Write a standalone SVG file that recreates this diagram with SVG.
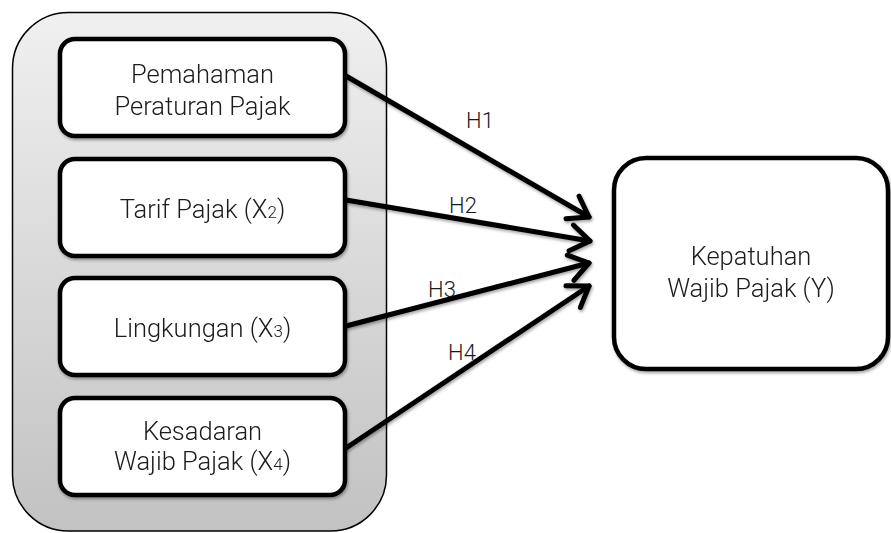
<svg xmlns="http://www.w3.org/2000/svg" width="891" height="533" viewBox="0 0 891 533">
<defs>
<linearGradient id="g" x1="0" y1="0" x2="0" y2="1">
<stop offset="0" stop-color="#f0f0f0"/>
<stop offset="1" stop-color="#c2c2c2"/>
</linearGradient>
<filter id="sh" x="-10%" y="-10%" width="120%" height="130%">
<feDropShadow dx="1" dy="2" stdDeviation="1.5" flood-color="#000" flood-opacity="0.35"/>
</filter>
<marker id="ah" markerUnits="userSpaceOnUse" markerWidth="40" markerHeight="40" viewBox="-30 -20 40 40" refX="0" refY="0" orient="auto">
<path d="M-19,-13 L0,0 L-19,13" fill="none" stroke="#000" stroke-width="5" stroke-linecap="round" stroke-linejoin="round"/>
</marker>
</defs>
<style>
.box{fill:#fff;stroke:#000;stroke-width:4.5;}
.t{font-family:Roboto,"Liberation Sans",Arial,sans-serif;font-weight:300;font-size:25.5px;fill:#1a1a1a;text-anchor:middle;}
.lbl{font-family:Roboto,"Liberation Sans",Arial,sans-serif;font-weight:300;font-size:22px;fill:#1a1a1a;text-anchor:middle;}
.sub{font-size:17px;}
.ln{stroke:#000;stroke-width:5;fill:none;stroke-linecap:round;marker-end:url(#ah);}
</style>
<rect width="891" height="533" fill="#fff"/>
<g id="container">
<rect x="12.5" y="12.5" width="374" height="518.5" rx="56" fill="url(#g)" stroke="#000" stroke-width="1.5"/>
</g>
<g id="x1" filter="url(#sh)">
<rect class="box" x="60" y="39" width="285" height="97" rx="15"/>
<text class="t" x="202.5" y="83">Pemahaman</text>
<text class="t" x="202.5" y="115">Peraturan Pajak</text>
</g>
<g id="x2" filter="url(#sh)">
<rect class="box" x="60" y="159" width="285" height="97" rx="15"/>
<text class="t" x="202.5" y="218">Tarif Pajak (X<tspan class="sub">2</tspan>)</text>
</g>
<g id="x3" filter="url(#sh)">
<rect class="box" x="60" y="278" width="285" height="97" rx="15"/>
<text class="t" x="202.5" y="337">Lingkungan (X<tspan class="sub">3</tspan>)</text>
</g>
<g id="x4" filter="url(#sh)">
<rect class="box" x="60" y="398" width="285" height="97" rx="15"/>
<text class="t" x="202.5" y="440">Kesadaran</text>
<text class="t" x="202.5" y="470">Wajib Pajak (X<tspan class="sub">4</tspan>)</text>
</g>
<g id="y" filter="url(#sh)">
<rect class="box" x="614" y="158" width="274" height="211" rx="32"/>
<text class="t" x="751" y="265">Kepatuhan</text>
<text class="t" x="751" y="297">Wajib Pajak (Y)</text>
</g>
<g id="connectors" filter="url(#sh)">
<line class="ln" x1="346" y1="76" x2="589" y2="217"/>
<line class="ln" x1="346" y1="200" x2="590" y2="241"/>
<line class="ln" x1="346" y1="326" x2="589" y2="263"/>
<line class="ln" x1="346" y1="448" x2="589" y2="286"/>
</g>
<g id="labels">
<text class="lbl" x="480" y="128">H1</text>
<text class="lbl" x="463" y="213">H2</text>
<text class="lbl" x="442" y="297">H3</text>
<text class="lbl" x="462" y="360">H4</text>
</g>
</svg>
